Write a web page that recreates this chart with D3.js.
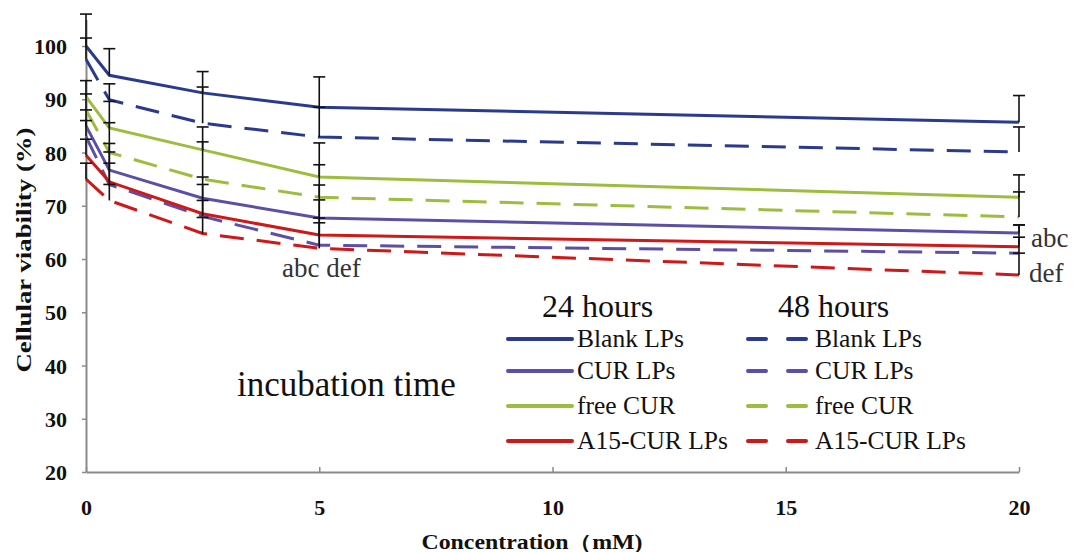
<!DOCTYPE html>
<html lang="en">
  <head>
    <meta charset='utf-8'>
    <script type="text/javascript" src="https://cdn.jsdelivr.net/npm/d3@7"></script>
    <title>Cellular viability</title>
    <style>
      body{margin:0;background:white;}
      text{font-family:"Liberation Serif","Times New Roman",serif;}
    </style>
  </head>
  <body>
    <div id="mainDiv"></div>
    <script type="text/javascript">
      //Data
      var conc=[0,0.5,2.5,5,20];
      var yTicks=[20,30,40,50,60,70,80,90,100];
      var xTicks=[0,5,10,15,20];
      var blank24=[100,94.5,91.2,88.5,85.7];
      var blank48=[97.5,89.9,85.5,82.9,80.1];
      var cur24=[85,76.7,71.4,67.7,64.9];
      var cur48=[83,74,68,62.6,61.1];
      var free24=[90.5,84.6,80.5,75.4,71.6];
      var free48=[88,80,75,71.6,67.9];
      var a15_24=[79.5,74.5,68.5,64.5,62.3];
      var a15_48=[75,71,64.8,62,57];
      //upper error bars
      var blank24Err=[6,5,4,5.7,5];
      var blank48Err=[4,3,6.8,5.6,4.7];
      var cur24Err=[3,5,4,6.2,1.5];
      var cur48Err=[3,4,3,4.2,3];
      var free24Err=[3,5,4.3,6.4,4.2];
      var free48Err=[3,5.6,7,6.1,4.7];
      var a15_24Err=[3,5.6,5.5,6.6,4.1];
      var a15_48Err=[3,3,3,5.7,4.1];
      var names=["Blank LPs","CUR LPs","free CUR","A15-CUR LPs"];
      var colors=["#2a3a8e","#5d4fa6","#9cbd3e","#d01818"];

      var series=[
        {name:names[0],v:blank24,e:blank24Err,c:colors[0],dash:false},
        {name:names[0],v:blank48,e:blank48Err,c:colors[0],dash:true},
        {name:names[2],v:free24,e:free24Err,c:colors[2],dash:false},
        {name:names[2],v:free48,e:free48Err,c:colors[2],dash:true},
        {name:names[1],v:cur24,e:cur24Err,c:colors[1],dash:false},
        {name:names[1],v:cur48,e:cur48Err,c:colors[1],dash:true},
        {name:names[3],v:a15_24,e:a15_24Err,c:colors[3],dash:false},
        {name:names[3],v:a15_48,e:a15_48Err,c:colors[3],dash:true}
      ];

      var w=1073, h=552;
      var svg=d3.select("#mainDiv").append("svg")
        .attr("width",w).attr("height",h)
        .style("display","block");

      var x=d3.scaleLinear().domain([0,20]).range([86,1019]);
      var y=d3.scaleLinear().domain([20,105]).range([472,19.4]);

      //Axes
      var xAxis=svg.append("g")
        .attr("transform","translate(0,"+y(20)+")")
        .call(d3.axisBottom(x).tickValues(xTicks).tickSize(-5).tickSizeOuter(0).tickPadding(0));
      xAxis.selectAll("text")
        .attr("y",43).attr("dy",0)
        .attr("font-size","22px").attr("font-weight","bold").attr("fill","#111");
      var yAxis=svg.append("g")
        .attr("transform","translate("+x(0)+",0)")
        .call(d3.axisLeft(y).tickValues(yTicks).tickSize(4).tickSizeOuter(0).tickPadding(0));
      yAxis.selectAll("text")
        .attr("x",-19).attr("dy","0.35em")
        .attr("font-size","22px").attr("font-weight","bold").attr("fill","#111");
      svg.selectAll(".domain, .tick line")
        .attr("stroke","#8a8a8a").attr("stroke-width",2);
      svg.selectAll(".tick line").attr("stroke-width",1.5);

      //Lines
      var line=d3.line()
        .x(function(d,i){return x(conc[i]);})
        .y(function(d){return y(d);});
      svg.selectAll(".series")
        .data(series)
        .enter()
        .append("path")
        .attr("class","series")
        .attr("d",function(s){return line(s.v);})
        .attr("fill","none")
        .attr("stroke",function(s){return s.c;})
        .attr("stroke-width",3)
        .attr("stroke-dasharray",function(s){return s.dash?"24,13":null;});

      //Error bars (plus direction only)
      series.forEach(function(s){
        var g=svg.append("g").attr("stroke","#111").attr("stroke-width",1.6);
        s.v.forEach(function(v,i){
          var cx=x(conc[i]);
          g.append("line").attr("x1",cx).attr("x2",cx)
            .attr("y1",y(v)).attr("y2",y(v+s.e[i]));
          g.append("line").attr("x1",cx-6).attr("x2",cx+6)
            .attr("y1",y(v+s.e[i])).attr("y2",y(v+s.e[i]));
        });
      });

      //Significance letters
      svg.append("text").attr("x",282).attr("y",277).attr("font-size","27px").attr("fill","#333").text("abc def");
      svg.append("text").attr("x",1031).attr("y",247).attr("font-size","27px").attr("fill","#333").text("abc");
      svg.append("text").attr("x",1029).attr("y",282).attr("font-size","27px").attr("fill","#333").text("def");

      //Legend
      svg.append("text").attr("x",237).attr("y",396).attr("font-size","35px").attr("fill","#111").text("incubation time");
      svg.append("text").attr("x",542).attr("y",317).attr("font-size","32px").attr("fill","#111").text("24 hours");
      svg.append("text").attr("x",778).attr("y",317).attr("font-size","32px").attr("fill","#111").text("48 hours");
      var rowY=[339,371,406,441];
      names.forEach(function(n,i){
        svg.append("line").attr("x1",508).attr("x2",572)
          .attr("y1",rowY[i]).attr("y2",rowY[i])
          .attr("stroke",colors[i]).attr("stroke-width",4).attr("stroke-linecap","round");
        svg.append("text").attr("x",577).attr("y",rowY[i]+8)
          .attr("font-size","25.5px").attr("fill","#111").text(n);
        svg.append("line").attr("x1",748).attr("x2",808)
          .attr("y1",rowY[i]).attr("y2",rowY[i])
          .attr("stroke",colors[i]).attr("stroke-width",4).attr("stroke-linecap","round")
          .attr("stroke-dasharray","18,22");
        svg.append("text").attr("x",815).attr("y",rowY[i]+8)
          .attr("font-size","25.5px").attr("fill","#111").text(n);
      });

      //Axis titles
      svg.append("text")
        .attr("transform","translate(31,250) rotate(-90)")
        .attr("text-anchor","middle")
        .attr("font-size","21px").attr("font-weight","bold").attr("fill","#111")
        .attr("textLength",245).attr("lengthAdjust","spacingAndGlyphs")
        .text("Cellular viability (%)");
      svg.append("text")
        .attr("x",532).attr("y",549)
        .attr("text-anchor","middle")
        .attr("font-size","20px").attr("font-weight","bold").attr("fill","#111")
        .attr("textLength",221).attr("lengthAdjust","spacingAndGlyphs")
        .text("Concentration（mM)");
    </script>
  </body>
</html>
